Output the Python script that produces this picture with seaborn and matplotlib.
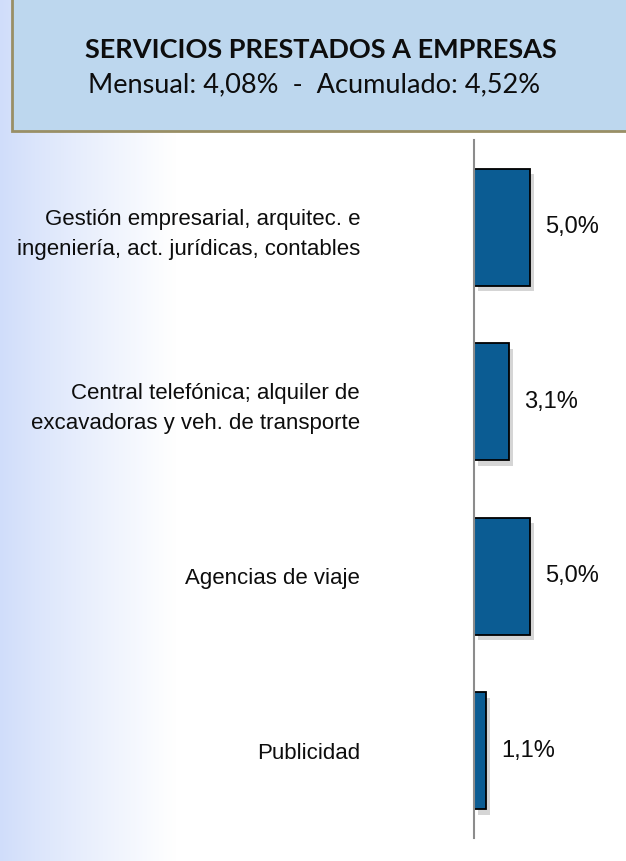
import numpy as np
import pandas as pd
import seaborn as sns
import matplotlib
matplotlib.use("Agg")
from matplotlib import pyplot as plt
from matplotlib import patheffects as pe
from matplotlib.patches import Rectangle

# Data
categories = [
    "Gestión empresarial, arquitec. e\ningeniería, act. jurídicas, contables",
    "Central telefónica; alquiler de\nexcavadoras y veh. de transporte",
    "Agencias de viaje",
    "Publicidad",
]
values = [5.0, 3.1, 5.0, 1.1]
value_labels = ["5,0%", "3,1%", "5,0%", "1,1%"]
title = "SERVICIOS PRESTADOS A EMPRESAS"
subtitle = "Mensual: 4,08%  -  Acumulado: 4,52%"

BAR_COLOR = "#0B5C93"
HEADER_FILL = "#BDD7EE"
HEADER_EDGE = "#998F66"
NARROW = ["Liberation Sans Narrow", "Liberation Sans", "DejaVu Sans"]
HEAD_FONT = ["Lato", "DejaVu Sans"]

sns.set_theme(style="white")
W, H = 626, 861
fig = plt.figure(figsize=(W / 100, H / 100), dpi=100)

# background gradient on the left
bg = fig.add_axes([0, 0, 1, 1], zorder=-10)
grad_w = 175 / W
cols = np.linspace(0, 1, 256) ** 0.9
start = np.array([208, 221, 250]) / 255
img = start[None, :] * (1 - cols[:, None]) + cols[:, None]
bg.imshow(img[None, :, :], extent=[0, grad_w, 0, 1], aspect="auto")
bg.set_xlim(0, 1)
bg.set_ylim(0, 1)
bg.axis("off")

# header box
fig.patches.append(Rectangle((12 / W, 1 - 131 / H), 1.0, 0.2, transform=fig.transFigure,
                             facecolor=HEADER_FILL, edgecolor=HEADER_EDGE, lw=2, zorder=1))
fig.text(321 / W, 1 - 50 / H, title, ha="center", va="center", fontsize=19.5,
         fontweight="bold", family=HEAD_FONT, color="#0d0d0d")
fig.text(314 / W, 1 - 85 / H, subtitle, ha="center", va="center", fontsize=19.5,
         family=HEAD_FONT, color="#0d0d0d")

# bar chart
df = pd.DataFrame({"categoria": categories, "valor": values})
ax = fig.add_axes([474 / W, 1 - 838 / H, 1 - 474 / W, (838 - 140) / H])
ax.patch.set_alpha(0)
sns.barplot(data=df, x="valor", y="categoria", orient="h", color=BAR_COLOR,
            width=0.67, edgecolor="black", linewidth=1.3, saturation=1, ax=ax)
for bar in ax.patches:
    bar.set_path_effects([pe.SimplePatchShadow(offset=(3, -4), shadow_rgbFace="#777777", alpha=0.3),
                          pe.Normal()])

for i, (v, lab) in enumerate(zip(values, value_labels)):
    ax.annotate(lab, (v, i), xytext=(11, 0), textcoords="offset points", ha="left",
                va="center", fontsize=17, family=NARROW, color="#0d0d0d")

ax.set_xlim(0, 152 / 11.2)
ax.set_ylim(3.5, -0.5)
ax.set_xlabel("")
ax.set_ylabel("")
ax.set_xticks([])
for s in ["top", "right", "bottom"]:
    ax.spines[s].set_visible(False)
ax.spines["left"].set_color("#8c8c8c")
ax.spines["left"].set_linewidth(1.5)
ax.tick_params(axis="y", length=0, pad=82)
for t in ax.get_yticklabels():
    t.set_fontsize(16)
    t.set_family(NARROW)
    t.set_color("#0d0d0d")
    t.set_linespacing(1.55)
    t.set_multialignment("right")

fig.savefig("out.png", dpi=100)
